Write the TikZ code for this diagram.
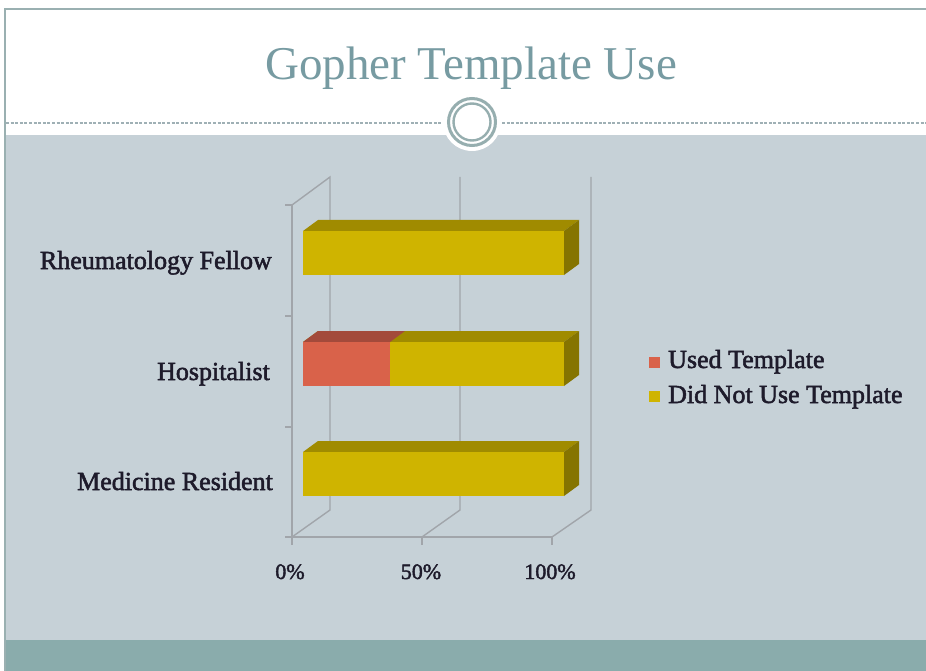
\documentclass[tikz,border=0pt]{standalone}
\usepackage{fontspec}
\setmainfont{Liberation Serif}
\newfontfamily\labelfont{Liberation Serif}[UprightFeatures={FakeBold=2}]
\definecolor{framec}{HTML}{9AB0B1}
\definecolor{bodyc}{HTML}{C6D1D7}
\definecolor{bandc}{HTML}{8AACAC}
\definecolor{titlec}{HTML}{779BA2}
\definecolor{ringc}{HTML}{96AEAF}
\definecolor{dashc}{HTML}{9FB0B5}
\definecolor{gridc}{HTML}{A1A5AA}
\definecolor{labelc}{HTML}{1E1B2B}
\definecolor{yelF}{HTML}{CFB400}
\definecolor{yelT}{HTML}{A08B00}
\definecolor{yelS}{HTML}{857400}
\definecolor{redF}{HTML}{D9624A}
\definecolor{redT}{HTML}{A34A3B}
\tikzset{
  gridline/.style={draw=gridc, line width=1.4pt},
  catlabel/.style={anchor=base east, inner sep=0pt, text=labelc, font=\labelfont\fontsize{26}{30}\selectfont},
  pctlabel/.style={anchor=base, inner sep=0pt, text=labelc, font=\labelfont\fontsize{22}{26}\selectfont},
  legtext/.style={anchor=base west, inner sep=0pt, text=labelc, font=\labelfont\fontsize{26}{30}\selectfont},
}
\begin{document}
\begin{tikzpicture}[x=1pt,y=-1pt]
\useasboundingbox (0,0) rectangle (926,671);
% page and slide frame
\fill[white] (0,0) rectangle (926,671);
\fill[bodyc] (5,135) rectangle (926,640);
\fill[bandc] (5,640) rectangle (926,671);
\draw[framec, line width=2pt] (5,671) -- (5,9) -- (926,9);
% title separator with ring ornament
\draw[dashc, line width=1.6pt, dash pattern=on 3pt off 1.6pt] (6,123) -- (442,123);
\draw[dashc, line width=1.6pt, dash pattern=on 3pt off 1.6pt] (502,123) -- (926,123);
\fill[white] (472,122) circle[radius=29];
\draw[ringc, line width=3pt] (472,122) circle[radius=23.5];
\draw[ringc, line width=2.4pt] (472,122) circle[radius=18.5];
\node[anchor=base, inner sep=0pt, text=titlec, font=\fontsize{47}{56}\selectfont] (title) at (471,80) {Gopher Template Use};
% chart walls and gridlines
\draw[gridline] (285,205) -- (292,205) -- (292,537) -- (552,537);
\foreach \ty in {316,427,537} \draw[gridline] (285,\ty) -- (292,\ty);
\foreach \tx in {292,422,552} \draw[gridline] (\tx,537) -- (\tx,545);
\draw[gridline] (292,205) -- (330,177) -- (330,510) -- (292,537);
\draw[gridline] (460,177) -- (460,510) -- (422,537);
\draw[gridline] (591,177) -- (591,510) -- (552,537);
% bars
\foreach \yt in {231,342,452}{
  \fill[yelT] (303,\yt) -- (318,\yt-11) -- (579,\yt-11) -- (564,\yt) -- cycle;
  \fill[yelS] (564,\yt) -- (579,\yt-11) -- (579,\yt+33) -- (564,\yt+44) -- cycle;
  \fill[yelF] (303,\yt) rectangle (564,\yt+44);
}
\fill[redT] (303,342) -- (318,331) -- (405,331) -- (390,342) -- cycle;
\fill[redF] (303,342) rectangle (390,386);
% category and value labels
\node[catlabel] (rf) at (272,269) {Rheumatology Fellow};
\node[catlabel] (ho) at (270,380) {Hospitalist};
\node[catlabel] (mr) at (273,490) {Medicine Resident};
\node[pctlabel] (p0) at (290,579) {0\%};
\node[pctlabel] (p50) at (421,579) {50\%};
\node[pctlabel] (p100) at (550,579) {100\%};
% legend
\fill[redF] (649,357) rectangle (660,368);
\fill[yelF] (649,391) rectangle (660,402);
\node[legtext] (lu) at (668,368) {Used Template};
\node[legtext] (ln) at (668,403) {Did Not Use Template};
\end{tikzpicture}
\end{document}
